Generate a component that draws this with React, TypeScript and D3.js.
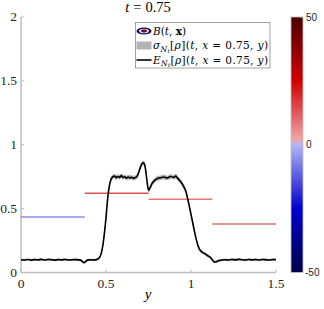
import React from 'react';
import * as d3 from 'd3';

// profile at x = 0.75
const yPoints = [0, 0.02, 0.04, 0.06, 0.08, 0.1, 0.12, 0.14, 0.16, 0.18, 0.2, 0.22, 0.24, 0.26, 0.28, 0.3, 0.32, 0.34, 0.355, 0.37, 0.38, 0.39, 0.41, 0.43, 0.45, 0.46, 0.47, 0.48, 0.49, 0.5, 0.51, 0.52, 0.53, 0.54, 0.55, 0.56, 0.57, 0.58, 0.59, 0.6, 0.61, 0.62, 0.63, 0.64, 0.65, 0.66, 0.67, 0.68, 0.69, 0.7, 0.71, 0.72, 0.73, 0.74, 0.75, 0.76, 0.77, 0.78, 0.79, 0.8, 0.82, 0.84, 0.86, 0.88, 0.9, 0.91, 0.92, 0.93, 0.94, 0.95, 0.96, 0.97, 0.98, 0.99, 1.0, 1.01, 1.02, 1.03, 1.04, 1.05, 1.06, 1.07, 1.08, 1.09, 1.1, 1.11, 1.12, 1.13, 1.14, 1.15, 1.16, 1.18, 1.2, 1.22, 1.24, 1.26, 1.28, 1.3, 1.32, 1.34, 1.36, 1.38, 1.4, 1.42, 1.44, 1.46, 1.48, 1.5];
const meanValues = [0.1, 0.098, 0.102, 0.097, 0.101, 0.099, 0.103, 0.098, 0.102, 0.1, 0.097, 0.101, 0.099, 0.102, 0.098, 0.1, 0.101, 0.099, 0.094, 0.078, 0.085, 0.097, 0.1, 0.098, 0.104, 0.115, 0.14, 0.2, 0.3, 0.43, 0.58, 0.68, 0.73, 0.748, 0.755, 0.742, 0.752, 0.745, 0.758, 0.744, 0.75, 0.738, 0.748, 0.741, 0.746, 0.737, 0.742, 0.748, 0.775, 0.815, 0.848, 0.858, 0.83, 0.73, 0.645, 0.665, 0.695, 0.712, 0.725, 0.735, 0.742, 0.748, 0.74, 0.752, 0.745, 0.755, 0.74, 0.725, 0.71, 0.69, 0.665, 0.635, 0.58, 0.52, 0.455, 0.39, 0.325, 0.265, 0.215, 0.182, 0.165, 0.155, 0.148, 0.14, 0.13, 0.122, 0.11, 0.09, 0.082, 0.085, 0.092, 0.097, 0.1, 0.098, 0.102, 0.099, 0.103, 0.1, 0.098, 0.102, 0.099, 0.101, 0.098, 0.102, 0.1, 0.098, 0.101, 0.102];
const sigmaValues = [0.008, 0.009, 0.008, 0.009, 0.008, 0.008, 0.009, 0.008, 0.009, 0.008, 0.008, 0.009, 0.008, 0.009, 0.008, 0.008, 0.009, 0.009, 0.01, 0.011, 0.01, 0.009, 0.008, 0.009, 0.009, 0.01, 0.014, 0.018, 0.02, 0.022, 0.022, 0.02, 0.018, 0.017, 0.018, 0.02, 0.017, 0.019, 0.018, 0.02, 0.017, 0.019, 0.018, 0.02, 0.017, 0.019, 0.018, 0.018, 0.02, 0.02, 0.02, 0.018, 0.02, 0.022, 0.02, 0.018, 0.018, 0.019, 0.018, 0.02, 0.018, 0.02, 0.018, 0.02, 0.018, 0.02, 0.019, 0.02, 0.02, 0.021, 0.021, 0.022, 0.022, 0.022, 0.022, 0.022, 0.02, 0.018, 0.016, 0.014, 0.013, 0.012, 0.012, 0.012, 0.012, 0.011, 0.011, 0.01, 0.009, 0.009, 0.009, 0.008, 0.009, 0.008, 0.009, 0.008, 0.009, 0.008, 0.009, 0.008, 0.009, 0.008, 0.009, 0.008, 0.009, 0.008, 0.009, 0.008];

// B(t, x) along the slice, piecewise constant
const bStarts = [0, 0.375, 0.75, 1.125];
const bEnds = [0.375, 0.75, 1.125, 1.5];
const bHeights = [0.435, 0.62, 0.573, 0.38];
const bField = [-5.5, 14, 8.5, 9.5];

const xTicks = [0, 0.5, 1, 1.5];
const yTicks = [0, 0.5, 1, 1.5, 2];
const cbTicks = [-50, 0, 50];

const W = 324;
const H = 309;
const L = 21, R = 276, T = 17, B = 272.5;
const CB_L = 291, CB_R = 303;

const serif = '"Liberation Serif", "DejaVu Serif", serif';
const wideSerif = '"DejaVu Serif", "Liberation Serif", serif';
const sans = '"Liberation Sans", Arial, sans-serif';
const axisGray = '#bebebe';

const cmap = d3.scaleLinear<string>()
  .domain([-50, -25, -0.01, 0.01, 25, 50])
  .range(['#00004a', '#0000d0', '#b4b4f4', '#f4b4b4', '#d00000', '#4a0000']);

function MathLabel({ head, yb }: { head: string; yb: number }) {
  return (
    <text x={153} y={yb} textLength={115} lengthAdjust="spacing">
      <tspan fontStyle="italic">{head}</tspan>
      <tspan fontStyle="italic" fontSize={7.5} dy={2.5}>N</tspan>
      <tspan fontStyle="italic" fontSize={5.5} dy={1.2}>t</tspan>
      <tspan dy={-3.7}>[</tspan><tspan fontStyle="italic">ρ</tspan>](<tspan fontStyle="italic">t</tspan>, <tspan fontStyle="italic">x</tspan> = 0.75, <tspan fontStyle="italic">y</tspan>)
    </text>
  );
}

export default function App() {
  const x = d3.scaleLinear().domain([0, 1.5]).range([L, R]);
  const y = d3.scaleLinear().domain([0, 2]).range([B, T]);
  const cb = d3.scaleLinear().domain([-50, 50]).range([B, T]);

  const idx = d3.range(yPoints.length);
  const band = d3.area<number>()
    .x(i => x(yPoints[i]))
    .y0(i => y(meanValues[i] - sigmaValues[i]))
    .y1(i => y(meanValues[i] + sigmaValues[i]))
    .curve(d3.curveMonotoneX);
  const mean = d3.line<number>()
    .x(i => x(yPoints[i]))
    .y(i => y(meanValues[i]))
    .curve(d3.curveMonotoneX);

  const stops = d3.range(-50, 50.01, 2.5);

  return (
    <svg width={W} height={H} style={{ position: 'absolute', left: 0, top: 0 }}>
      <defs>
        <linearGradient id="cbgrad" x1="0" y1="1" x2="0" y2="0">
          {stops.map(v => (
            <stop key={v} offset={(v + 50) / 100} stopColor={cmap(v === 0 ? -0.02 : v)} />
          ))}
          <stop offset={0.5} stopColor={cmap(0.02)} />
        </linearGradient>
      </defs>
      <rect width={W} height={H} fill="#fff" />

      {/* title */}
      <text x={148} y={12} textAnchor="middle" fontFamily={serif} fontSize={14.5}>
        <tspan fontStyle="italic">t</tspan><tspan dx={4}>=</tspan><tspan dx={4}>0.75</tspan>
      </text>

      {/* axes */}
      <line x1={L} x2={L} y1={T} y2={B} stroke={axisGray} strokeWidth={1.5} />
      <line x1={L} x2={R} y1={B} y2={B} stroke={axisGray} strokeWidth={1.5} />
      {yTicks.map(t => (
        <g key={'y' + t}>
          <line x1={L} x2={L + 3} y1={y(t)} y2={y(t)} stroke={axisGray} strokeWidth={1} />
          <text x={17} y={y(t)} dy="0.33em" textAnchor="end" fontFamily={serif} fontSize={13.5} fill="#262626">{t}</text>
        </g>
      ))}
      {xTicks.map(t => (
        <g key={'x' + t}>
          <line x1={x(t)} x2={x(t)} y1={B} y2={B - 3} stroke={axisGray} strokeWidth={1} />
          <text x={x(t)} y={288} textAnchor="middle" fontFamily={serif} fontSize={13.5} fill="#262626">{t}</text>
        </g>
      ))}
      <text x={148} y={299} textAnchor="middle" fontFamily={serif} fontSize={15} fontStyle="italic">y</text>

      {/* B(t,x) segments */}
      {bStarts.map((s, i) => (
        <line key={'b' + i} x1={x(s)} x2={x(bEnds[i])} y1={y(bHeights[i])} y2={y(bHeights[i])}
          stroke={cmap(bField[i])} strokeWidth={1.6} />
      ))}

      {/* sigma band and mean */}
      <path d={band(idx) ?? ''} fill="#b4b4b4" stroke="none" />
      <path d={mean(idx) ?? ''} fill="none" stroke="#000" strokeWidth={1.6} />

      {/* legend */}
      <g fontFamily={wideSerif} fontSize={10.5}>
        <rect x={135.5} y={22.5} width={134.5} height={45.5} fill="#fff" stroke="#8a8a8a" strokeWidth={0.8} />
        <ellipse cx={144} cy={31} rx={7.5} ry={3.6} fill="#0a0a5a" />
        <ellipse cx={144} cy={31} rx={5} ry={2.3} fill="#d8d8f0" />
        <ellipse cx={144} cy={31} rx={3} ry={1.4} fill="#7a0000" />
        <text x={153} y={34.5}>
          <tspan fontStyle="italic">B</tspan>(<tspan fontStyle="italic">t</tspan>, <tspan fontWeight="bold">x</tspan>)
        </text>
        <rect x={136.5} y={41.5} width={15} height={8} fill="#b4b4b4" />
        <MathLabel head="σ" yb={49} />
        <line x1={136.5} x2={151.5} y1={60} y2={60} stroke="#000" strokeWidth={1.6} />
        <MathLabel head="E" yb={63.5} />
      </g>

      {/* colorbar */}
      <rect x={CB_L} y={T} width={CB_R - CB_L} height={B - T} fill="url(#cbgrad)" stroke={axisGray} strokeWidth={0.8} />
      {cbTicks.map(t => (
        <g key={'c' + t}>
          <line x1={CB_R - 3} x2={CB_R} y1={cb(t)} y2={cb(t)} stroke={axisGray} strokeWidth={1} />
          <text x={t < 0 ? 305 : 306} y={cb(t)} dy="0.35em" fontFamily={sans} fontSize={10} fill="#262626">{t}</text>
        </g>
      ))}
    </svg>
  );
}
